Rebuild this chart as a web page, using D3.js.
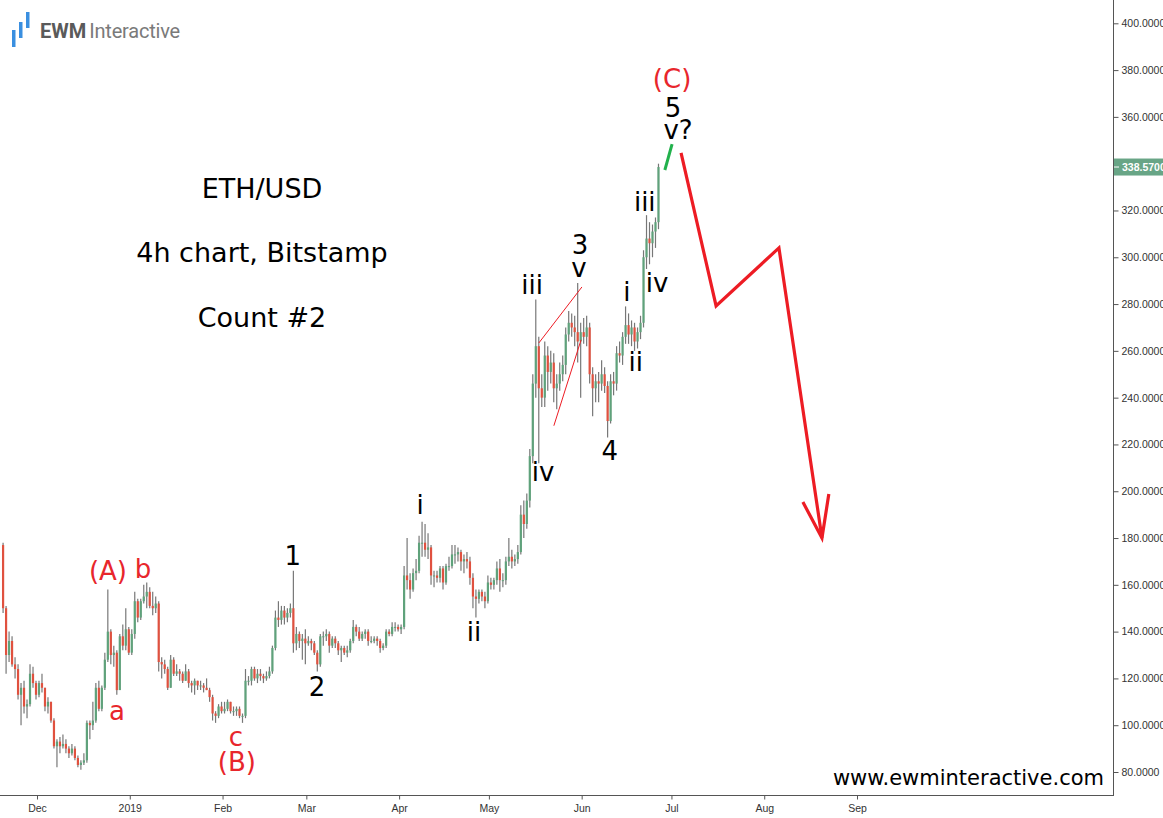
<!DOCTYPE html>
<html><head><meta charset="utf-8">
<script src="https://cdn.jsdelivr.net/npm/d3@7"></script>
<style>
html,body{margin:0;padding:0;background:#fff;}
svg{display:block;}
</style></head>
<body>
<svg id="chart" width="1163" height="818"></svg>
<script>
// ---------------- DATA ----------------
const startDate = "2018-11-19"; // first daily candle, consecutive days follow
const opens = [
177,150,130,136,126,124,113,116,108,109,122,118,
113,118,116,108,110,102,91,93,91,92,90,88,90,86,83,84,85,101,100,102,116,107,116,128,140,130,131,115,138,134,141,
131,139,153,146,153,155,157,151,150,152,127,126,124,116,128,122,123,122,119,123,118,117,119,117,117,116,115,112,105,104,108,
106,107,110,106,106,107,104,104,119,119,124,120,122,121,120,121,123,133,146,145,149,146,148,150,135,139,136,137,
135,136,135,131,126,138,138,139,134,137,135,132,133,131,132,136,142,140,137,139,140,136,136,137,136,133,134,140,139,142,142,
141,142,164,162,158,165,166,178,178,175,176,164,164,163,167,161,168,168,173,173,174,170,171,170,163,155,154,157,155,153,
161,160,162,167,162,162,170,172,170,171,174,190,186,196,215,246,262,244,240,258,251,255,244,246,250,254,267,272,270,268,264,
268,266,270,250,244,247,246,250,245,230,247,246,259,258,266,271,267,270,264,268,272,300,308,306,311,315];
const highs = [
178,151,140,138,129,126,118,119,111,126,125,119,
119,122,116,112,110,103,94,95,96,94,91,92,91,87,85,88,102,102,110,118,119,117,131,158,141,134,132,139,143,150,142,
141,157,154,154,160,161,159,157,155,153,129,128,125,130,129,126,124,123,126,124,119,120,119,119,118,120,116,113,106,109,110,
110,111,110,108,108,108,105,124,121,125,125,124,124,122,123,125,134,149,153,151,151,150,152,166,142,140,139,141,
138,137,136,132,139,140,141,140,138,138,136,134,134,134,137,145,143,142,140,141,141,138,138,138,137,135,141,141,144,144,143,
143,168,180,165,167,171,181,187,186,182,177,166,166,168,168,169,172,177,177,176,175,173,174,172,165,158,158,158,157,164,
163,163,170,171,165,172,180,175,173,177,194,196,199,218,250,282,266,250,264,262,260,259,250,255,258,270,277,276,275,289,272,
274,275,272,253,250,251,256,253,247,250,251,262,264,268,279,276,273,272,270,275,303,318,315,314,317,340];
const lows = [
148,122,127,125,120,111,100,105,103,108,116,111,
112,114,106,105,101,90,82,88,90,88,86,87,85,82,81,83,84,94,98,101,106,106,115,127,126,125,113,115,132,132,130,
130,137,144,145,152,150,150,147,148,123,120,122,115,116,121,121,119,118,119,116,114,113,115,115,114,115,110,102,101,103,105,
105,106,105,104,104,103,101,103,117,117,119,118,119,118,119,120,122,132,142,143,143,144,146,131,132,133,128,126,
134,132,130,123,125,134,136,131,133,133,130,127,130,129,131,135,138,136,136,137,134,135,135,134,131,132,133,138,138,140,140,
139,141,158,154,157,162,165,172,172,171,160,159,161,161,158,160,166,167,169,170,166,165,167,160,150,146,152,153,150,152,
158,158,160,157,159,160,168,167,168,169,173,180,184,193,212,240,212,236,236,243,246,238,235,243,247,250,264,266,262,255,240,
263,262,246,232,238,238,243,242,223,229,241,243,255,254,263,263,262,260,261,265,270,295,297,300,304,312];
const closes = [
150,130,136,126,124,113,116,108,109,122,118,113,
118,116,108,110,102,91,93,91,92,90,88,90,86,83,84,85,101,100,102,116,107,116,128,140,130,131,115,138,134,141,131,
139,153,146,153,155,157,151,150,152,127,126,124,116,128,122,123,122,119,123,118,117,119,117,117,116,115,112,105,104,108,106,
107,110,106,106,107,104,104,119,119,124,120,122,121,120,121,123,133,146,145,149,146,148,150,135,139,136,137,135,
136,135,131,126,138,138,139,134,137,135,132,133,131,132,136,142,140,137,139,140,136,136,137,136,133,134,140,139,142,142,141,
142,164,162,158,165,166,178,178,175,176,164,164,163,167,161,168,168,173,173,174,170,171,170,163,155,154,157,155,153,161,
160,162,167,162,162,170,172,170,171,174,190,186,196,215,246,262,244,240,258,251,255,244,246,250,254,267,272,270,268,264,268,
266,270,250,244,247,246,250,245,230,247,246,259,258,266,271,267,270,264,268,272,300,308,306,311,315,338.57];
const lastPrice = 338.57;

const monthTickDates = ["2018-12-01","2019-01-01","2019-02-01","2019-03-01","2019-04-01","2019-05-01","2019-06-01","2019-07-01","2019-08-01","2019-09-01"];
const monthTickLabels = ["Dec","2019","Feb","Mar","Apr","May","Jun","Jul","Aug","Sep"];
const priceTicks = [80,100,120,140,160,180,200,220,240,260,280,300,320,340,360,380,400];

// wave labels anchored at (time, price)
const waveTexts  = ["(A)","b","a","c","(B)","1","2","i","ii","iii","iv","3","v","4","i","ii","iii","iv","(C)","5","v?"];
const waveTimes  = ["2018-12-24T17:00","2019-01-05T10:00","2018-12-27T17:00","2019-02-05T12:00","2019-02-05T19:00",
  "2019-02-24T12:00","2019-03-04T14:00","2019-04-08T00:00","2019-04-26T00:00","2019-05-15T10:00","2019-05-19T02:00",
  "2019-05-31T10:00","2019-05-31T02:00","2019-06-10T10:00","2019-06-16T02:00","2019-06-19T02:00","2019-06-22T02:00",
  "2019-06-26T05:00","2019-07-01T05:00","2019-07-01T12:00","2019-07-03T05:00"];
const wavePrices = [165.9,166.8,106.2,95,84.3,172.3,116.4,194.2,139.9,288.2,208.2,305.3,295.5,217.2,285.2,255.3,323.6,289,376.2,363.8,354.4];
const waveRed    = [true,true,true,true,true,false,false,false,false,false,false,false,false,false,false,false,false,false,true,false,false];

// projection / drawing lines (time, price)
const greenLineTimes = ["2019-06-28T19:00","2019-07-01T05:00"];
const greenLinePrices = [337.3,348.4];
const projTimes = ["2019-07-04T05:00","2019-07-15T22:00","2019-08-05T22:00","2019-08-20T07:00"];
const projPrices = [344.6,279.2,304,180];
const arrowTimes = ["2019-08-13T22:00","2019-08-20T07:00","2019-08-22T14:00"];
const arrowPrices = [195.4,180,198.8];
const wedgeUpperTimes = ["2019-05-17T17:00","2019-06-01T02:00"];
const wedgeUpperPrices = [263.4,287.3];
const wedgeLowerTimes = ["2019-05-22T17:00","2019-05-31T19:00"];
const wedgeLowerPrices = [228,264.7];

const infoLines = ["ETH/USD","4h chart, Bitstamp","Count #2"];

// ---------------- CHART ----------------
const svg = d3.select("#chart");
const W = 1163, H = 818;
const plotRight = 1113, axisY = 795;
const parseT = s => new Date(s + (s.length === 10 ? "T00:00:00Z" : ":00Z"));

const x = d3.scaleUtc().domain([parseT("2018-12-01"), parseT("2019-09-01")]).range([37, 857]);
const y = d3.scaleLinear().domain([80, 400]).range([772, 23.3]);

svg.append("rect").attr("width", W).attr("height", H).attr("fill", "#fff");

svg.append("defs").append("clipPath").attr("id", "plotclip")
  .append("rect").attr("x", 0).attr("y", 0).attr("width", plotRight).attr("height", axisY);

const start = parseT(startDate);
const candles = closes.map((c, i) => ({
  t: d3.utcHour.offset(d3.utcDay.offset(start, i), 12),
  o: opens[i], h: highs[i], l: lows[i], c: c
}));

const upCol = "#5fa27b", downCol = "#e0513f", wickCol = "#777";
const gC = svg.append("g").attr("clip-path", "url(#plotclip)");
gC.selectAll("line.wick").data(candles).join("line")
  .attr("class", "wick")
  .attr("x1", d => x(d.t) + 0.5).attr("x2", d => x(d.t) + 0.5)
  .attr("y1", d => y(d.h)).attr("y2", d => y(d.l))
  .attr("stroke", wickCol).attr("stroke-width", 1.2);
gC.selectAll("rect.body").data(candles).join("rect")
  .attr("class", "body")
  .attr("x", d => x(d.t) - 0.6)
  .attr("width", 2.2)
  .attr("y", d => y(Math.max(d.o, d.c)))
  .attr("height", d => Math.max(1, Math.abs(y(d.o) - y(d.c))))
  .attr("fill", d => d.c >= d.o ? upCol : downCol);

// axes
const axisCol = "#555";
svg.append("line").attr("x1", 0).attr("x2", plotRight).attr("y1", axisY + 0.5).attr("y2", axisY + 0.5)
  .attr("stroke", axisCol).attr("stroke-width", 1);
svg.append("line").attr("x1", plotRight + 0.5).attr("x2", plotRight + 0.5).attr("y1", 0).attr("y2", axisY + 1)
  .attr("stroke", axisCol).attr("stroke-width", 1);

const xAxis = d3.axisBottom(x)
  .tickValues(monthTickDates.map(parseT))
  .tickFormat((d, i) => monthTickLabels[i])
  .tickSize(4).tickSizeOuter(0).tickPadding(5);
const gx = svg.append("g").attr("transform", `translate(0,${axisY + 0.5})`).call(xAxis);
gx.select(".domain").remove();
gx.selectAll(".tick line").attr("stroke", axisCol);
gx.selectAll(".tick text").attr("fill", "#333").style("font-family", "'Liberation Sans', Arial, sans-serif").style("font-size", "10.5px");

const yAxis = d3.axisRight(y).tickValues(priceTicks).tickFormat(d3.format(".4f")).tickSize(5).tickPadding(3);
const gy = svg.append("g").attr("transform", `translate(${plotRight + 0.5},0)`).call(yAxis);
gy.select(".domain").remove();
gy.selectAll(".tick line").attr("stroke", axisCol);
gy.selectAll(".tick text").attr("fill", "#333").style("font-family", "'Liberation Sans', Arial, sans-serif").style("font-size", "10.5px");

// last price label
const ly = y(lastPrice);
svg.append("rect").attr("x", plotRight + 1).attr("y", ly - 8.5).attr("width", W - plotRight).attr("height", 17).attr("fill", "#68a586");
svg.append("line").attr("x1", plotRight + 1).attr("x2", plotRight + 6).attr("y1", ly).attr("y2", ly).attr("stroke", "#fff");
svg.append("text").attr("x", plotRight + 9).attr("y", ly).attr("dy", "0.35em")
  .attr("fill", "#fff").style("font-family", "'Liberation Sans', Arial, sans-serif")
  .style("font-size", "10.5px").style("font-weight", "bold").text(d3.format(".4f")(lastPrice));

// drawn lines
const line = d3.line().x(d => x(parseT(d[0]))).y(d => y(d[1]));
const gA = svg.append("g").attr("clip-path", "url(#plotclip)");
gA.append("path").attr("d", line(wedgeUpperTimes.map((t, i) => [t, wedgeUpperPrices[i]])))
  .attr("fill", "none").attr("stroke", "#ed1c24").attr("stroke-width", 1);
gA.append("path").attr("d", line(wedgeLowerTimes.map((t, i) => [t, wedgeLowerPrices[i]])))
  .attr("fill", "none").attr("stroke", "#ed1c24").attr("stroke-width", 1);
gA.append("path").attr("d", line(greenLineTimes.map((t, i) => [t, greenLinePrices[i]])))
  .attr("fill", "none").attr("stroke", "#22b14c").attr("stroke-width", 3);
gA.append("path").attr("d", line(projTimes.map((t, i) => [t, projPrices[i]])))
  .attr("fill", "none").attr("stroke", "#ed1c24").attr("stroke-width", 3.2).attr("stroke-linejoin", "miter");
gA.append("path").attr("d", line(arrowTimes.map((t, i) => [t, arrowPrices[i]])))
  .attr("fill", "none").attr("stroke", "#ed1c24").attr("stroke-width", 3.2).attr("stroke-linejoin", "miter");

// wave labels
svg.append("g").selectAll("text").data(waveTexts).join("text")
  .attr("x", (d, i) => x(parseT(waveTimes[i])))
  .attr("y", (d, i) => y(wavePrices[i]))
  .attr("text-anchor", "middle").attr("dominant-baseline", "central")
  .attr("fill", (d, i) => waveRed[i] ? "#e8262c" : "#000")
  .style("font-family", "'DejaVu Sans', Verdana, sans-serif").style("font-size", "26px")
  .text(d => d);

// info text
svg.append("g").selectAll("text").data(infoLines).join("text")
  .attr("x", 262).attr("y", (d, i) => 188 + i * 64.5)
  .attr("text-anchor", "middle").attr("dominant-baseline", "central")
  .attr("fill", "#000")
  .style("font-family", "'DejaVu Sans', Verdana, sans-serif").style("font-size", "27px")
  .text(d => d);

// website
svg.append("text").attr("x", 1104).attr("y", 778).attr("text-anchor", "end").attr("dominant-baseline", "central")
  .attr("fill", "#000").style("font-family", "'DejaVu Sans', Verdana, sans-serif").style("font-size", "21px")
  .text("www.ewminteractive.com");

// logo
const logo = svg.append("g");
[[12, 30, 17], [19, 22, 16], [26, 12, 16]].forEach(b => {
  logo.append("rect").attr("x", b[0]).attr("y", b[1]).attr("width", 3.5).attr("height", b[2]).attr("fill", "#3a8fe0");
});
const lt = logo.append("text").attr("x", 40).attr("y", 38)
  .style("font-family", "Roboto, 'Open Sans', sans-serif").style("font-size", "20px");
lt.append("tspan").attr("fill", "#5a5a5a").style("font-weight", "bold").text("EWM");
lt.append("tspan").attr("fill", "#7a7a7a").attr("dx", 3).style("letter-spacing", "-0.2px").text("Interactive");
</script>
</body></html>
